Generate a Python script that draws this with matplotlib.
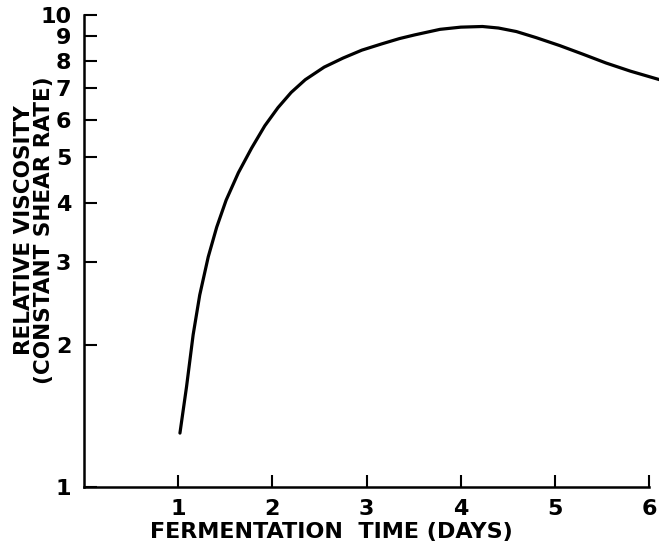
import numpy as np
import matplotlib.pyplot as plt
from matplotlib.ticker import FixedLocator, NullLocator

# relative viscosity vs fermentation time (days)
days = [1.02, 1.09, 1.16, 1.23, 1.32, 1.41, 1.51, 1.64, 1.78, 1.92,
        2.06, 2.20, 2.35, 2.55, 2.75, 2.95, 3.16, 3.35, 3.51, 3.78,
        4.00, 4.23, 4.40, 4.59, 4.80, 5.05, 5.30, 5.54, 5.80, 6.11]
viscosity = [1.30, 1.63, 2.10, 2.55, 3.07, 3.55, 4.05, 4.63, 5.22, 5.82,
             6.36, 6.85, 7.29, 7.75, 8.10, 8.42, 8.68, 8.91, 9.07, 9.32,
             9.42, 9.45, 9.38, 9.22, 8.95, 8.61, 8.25, 7.91, 7.60, 7.29]

x_ticks = [1, 2, 3, 4, 5, 6]
y_ticks = [1, 2, 3, 4, 5, 6, 7, 8, 9, 10]

plt.rcParams['font.family'] = ['DejaVu Sans']
plt.rcParams['font.weight'] = 'bold'

fig = plt.figure(figsize=(6.6, 5.52), dpi=100)
ax = fig.add_axes([0.127, 0.118, 0.871, 0.855])

ax.plot(days, viscosity, color='black', lw=2.3, solid_capstyle='round',
        solid_joinstyle='round')

ax.set_yscale('log')
ax.set_xlim(0, 6.1)
ax.set_ylim(1, 10)

ax.spines['top'].set_visible(False)
ax.spines['right'].set_visible(False)
for s in ['left', 'bottom']:
    ax.spines[s].set_linewidth(1.8)
ax.spines['bottom'].set_bounds(0, 6)

ax.xaxis.set_major_locator(FixedLocator(x_ticks))
ax.set_xticklabels([str(t) for t in x_ticks])
ax.yaxis.set_major_locator(FixedLocator(y_ticks))
ax.yaxis.set_minor_locator(NullLocator())
ax.set_yticklabels([str(t) for t in y_ticks])

ax.tick_params(axis='both', direction='in', length=9, width=1.5,
               labelsize=16, pad=9)

# axis titles placed by hand
fig.text(0.502, 0.036, 'FERMENTATION  TIME (DAYS)', fontsize=16,
         fontweight='bold', ha='center', va='center')
fig.text(0.0515, 0.583, 'RELATIVE VISCOSITY\n(CONSTANT SHEAR RATE)',
         fontsize=15.5, fontweight='bold', rotation=90, ha='center',
         va='center', multialignment='center', linespacing=1.05)

fig.savefig('out.png', dpi=100)
